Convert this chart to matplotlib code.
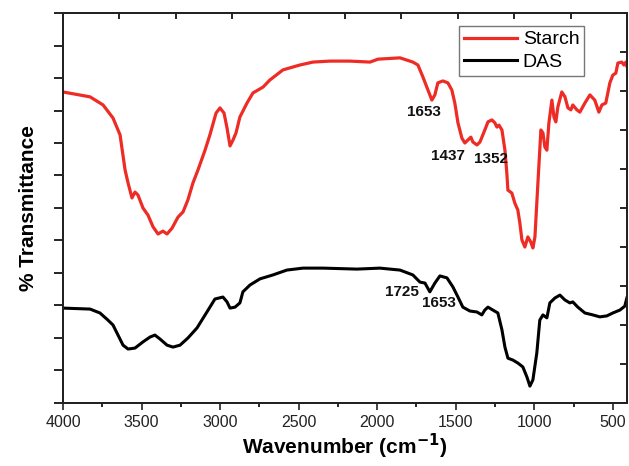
import matplotlib
matplotlib.use("Agg")
import matplotlib.pyplot as plt
from matplotlib.ticker import MultipleLocator

plt.rcParams['font.family'] = ['Liberation Sans', 'DejaVu Sans']

# Starch (red) spectrum: wavenumber (cm-1) and transmittance (a.u.)
starch_wn = [4000, 3828, 3745, 3682, 3637, 3605, 3586, 3561, 3542, 3523, 3491, 3459,
             3427, 3395, 3364, 3338, 3306, 3268, 3236, 3205, 3173, 3141, 3096, 3065,
             3026, 3001, 2975, 2956, 2937, 2918, 2899, 2874, 2829, 2791, 2727, 2683,
             2600, 2492, 2409, 2301, 2174, 2046, 1995, 1855, 1773, 1741, 1709, 1677,
             1652, 1633, 1614, 1582, 1550, 1525, 1506, 1486, 1461, 1442, 1423, 1404,
             1391, 1365, 1346, 1315, 1295, 1270, 1251, 1238, 1225, 1206, 1187, 1175,
             1168, 1143, 1124, 1105, 1092, 1079, 1060, 1041, 1022, 1009, 996, 977,
             958, 945, 933, 920, 907, 888, 875, 863, 850, 825, 805, 786, 767, 755,
             729, 710, 678, 646, 615, 589, 570, 545, 519, 500, 481, 468, 443, 430,
             417, 411]
starch_t = [95.7, 94.2, 91.7, 87.7, 82.5, 71.7, 67.7, 63.1, 64.9, 64.0, 60.0, 57.8,
            54.2, 52.0, 52.9, 52.0, 53.8, 57.2, 58.8, 62.5, 67.7, 71.7, 77.8, 82.5,
            89.2, 90.8, 89.2, 84.6, 79.1, 80.9, 83.1, 88.0, 92.3, 95.4, 97.2, 99.4,
            102.5, 104.0, 104.9, 105.2, 105.2, 104.9, 105.8, 106.2, 104.9, 104.0, 100.3, 96.3,
            93.2, 94.8, 98.5, 99.1, 98.5, 96.3, 92.3, 86.2, 81.5, 80.0, 80.9, 81.8,
            80.3, 79.4, 80.3, 84.0, 86.5, 87.1, 86.2, 84.9, 85.5, 84.0, 77.8, 70.8,
            65.5, 64.6, 61.5, 59.4, 55.4, 50.2, 48.0, 51.1, 49.5, 47.7, 51.1, 67.7,
            84.0, 83.1, 78.8, 77.8, 86.2, 93.2, 88.0, 86.5, 91.1, 95.7, 94.2, 90.8, 90.2, 91.7,
            90.2, 89.5, 92.3, 94.8, 93.2, 89.5, 91.7, 92.3, 98.5, 100.9, 101.5, 104.6, 104.9, 104.0,
            104.9, 103.7]

# DAS (black) spectrum
das_wn = [4000, 3828, 3765, 3714, 3682, 3650, 3618, 3586, 3542, 3491, 3446, 3415,
          3383, 3338, 3300, 3255, 3205, 3147, 3084, 3033, 2982, 2956, 2937, 2905,
          2874, 2855, 2810, 2746, 2664, 2575, 2473, 2345, 2129, 1983, 1855, 1773,
          1728, 1696, 1665, 1633, 1601, 1556, 1518, 1486, 1455, 1410, 1365, 1334,
          1315, 1295, 1264, 1232, 1206, 1187, 1168, 1136, 1105, 1073, 1047, 1028,
          1009, 984, 965, 945, 920, 901, 869, 837, 805, 774, 755, 723, 678, 627,
          583, 538, 500, 455, 424, 411]
das_t = [29.2, 28.9, 27.7, 25.5, 24.0, 20.9, 17.8, 16.6, 16.9, 18.8, 20.3, 20.9,
         19.7, 17.8, 17.2, 17.8, 20.0, 23.1, 28.0, 32.0, 32.6, 31.1, 29.2, 29.5,
         30.8, 34.2, 36.3, 38.2, 39.4, 40.9, 41.5, 41.5, 41.2, 41.5, 40.9, 39.4,
         37.2, 36.9, 34.2, 36.9, 39.1, 38.5, 35.7, 32.6, 29.5, 28.3, 28.0, 27.1,
         28.6, 29.5, 28.6, 27.7, 22.5, 17.2, 13.8, 13.2, 12.3, 11.1, 8.0, 5.2,
         7.1, 15.4, 25.5, 27.1, 26.2, 30.8, 32.3, 33.2, 31.7, 30.8, 31.1, 29.5, 27.7, 27.1,
         26.5, 26.8, 27.7, 28.6, 29.8, 32.3]

# Peak annotations: label, wavenumber, transmittance position of the text
ann_labels = ['1653', '1437', '1352', '1725', '1653']
ann_wn = [1703, 1550, 1276, 1843, 1607]
ann_t = [89.5, 76.0, 75.1, 34.2, 30.8]

x_ticks = [4000, 3500, 3000, 2500, 2000, 1500, 1000, 500]

fig = plt.figure(figsize=(6.29, 4.66), dpi=100)
ax = fig.add_axes([0.1002, 0.1352, 0.8966, 0.8369])

ax.plot(starch_wn, starch_t, color='#ee2b25', lw=2.3, label='Starch', solid_joinstyle='round')
ax.plot(das_wn, das_t, color='#000000', lw=2.2, label='DAS', solid_joinstyle='round')

for lab, w, t in zip(ann_labels, ann_wn, ann_t):
    ax.text(w, t, lab, ha='center', va='center', fontsize=11, fontweight='bold', color='#111111')

ax.set_xlim(4000, 410)
ax.set_ylim(0, 120)
ax.set_xticks(x_ticks)
ax.set_xticklabels([str(v) for v in x_ticks])
ax.xaxis.set_minor_locator(MultipleLocator(250))
ax.yaxis.set_major_locator(MultipleLocator(10))
ax.set_yticklabels([])
ax.tick_params(axis='x', which='major', direction='out', length=5, width=1.2,
               labelsize=11.5, colors='#222222', pad=4)
ax.tick_params(axis='x', which='minor', direction='out', length=3, width=1.2)
ax.tick_params(axis='y', which='major', direction='out', length=6.5, width=1.2)
ax.tick_params(top=False, right=False)
for s in ax.spines.values():
    s.set_linewidth(1.4)
    s.set_color('#222222')

ax.set_xlabel('Wavenumber (cm$^{\\mathbf{-1}}$)', fontsize=15, fontweight='bold', labelpad=1)
ax.set_ylabel('% Transmittance', fontsize=15, fontweight='bold', labelpad=8)

# top and right tick axes (inward ticks, no labels)
axt = ax.twiny()
axt.set_xlim(0, 10)
axt.xaxis.set_major_locator(MultipleLocator(1))
axt.tick_params(axis='x', direction='in', length=4, width=1.2, labeltop=False)
axr = ax.twinx()
axr.set_ylim(0, 100)
axr.yaxis.set_major_locator(MultipleLocator(10))
axr.tick_params(axis='y', direction='in', length=5, width=1.2, labelright=False)
for a in (axt, axr):
    for s in a.spines.values():
        s.set_linewidth(1.4)
        s.set_color('#222222')

leg = ax.legend(loc='upper right', bbox_to_anchor=(0.924, 0.967), borderaxespad=0,
                fontsize=14, handlelength=2.7, handletextpad=0.3, labelspacing=0.25,
                borderpad=0.25, fancybox=False, framealpha=1, edgecolor='#777777')
leg.get_frame().set_linewidth(1.0)
leg.set_zorder(10)

fig.savefig('out.png', dpi=100)
